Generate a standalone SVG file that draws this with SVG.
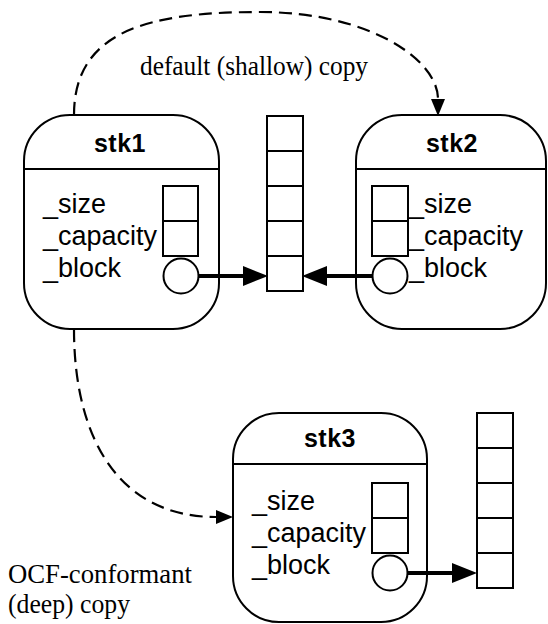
<svg xmlns="http://www.w3.org/2000/svg" width="548" height="624" viewBox="0 0 548 624">
  <style>
    .frame { fill: #fff; stroke: #000; stroke-width: 2; }
    .cell { fill: #fff; stroke: #000; stroke-width: 2; }
    .rule { stroke: #000; stroke-width: 2; }
    .title { font-family: "Liberation Sans", Arial, sans-serif; font-size: 25px; font-weight: bold; text-anchor: middle; letter-spacing: 0.5px; }
    .field { font-family: "Liberation Sans", Arial, sans-serif; font-size: 27px; }
    .note { font-family: "Liberation Serif", "Times New Roman", serif; font-size: 28px; }
    .ptr { fill: none; stroke: #000; stroke-width: 4; }
    .copy { fill: none; stroke: #000; stroke-width: 2.2; stroke-dasharray: 13 7; }
  </style>
  <defs>
    <marker id="bigHead" markerUnits="userSpaceOnUse" markerWidth="25" markerHeight="20" refX="0" refY="10" orient="auto">
      <path d="M0,0 L25,10 L0,20 z" fill="#000"/>
    </marker>
    <marker id="smallHead" markerUnits="userSpaceOnUse" markerWidth="17" markerHeight="14" refX="0" refY="7" orient="auto">
      <path d="M0,0 L17,7 L0,14 z" fill="#000"/>
    </marker>
  </defs>

  <rect width="548" height="624" fill="#fff"/>

  <!-- shared block referenced by stk1 and stk2 -->
  <g id="block-shared">
    <rect class="cell" x="267" y="116" width="36" height="35"/>
    <rect class="cell" x="267" y="151" width="36" height="35"/>
    <rect class="cell" x="267" y="186" width="36" height="35"/>
    <rect class="cell" x="267" y="221" width="36" height="35"/>
    <rect class="cell" x="267" y="256" width="36" height="35"/>
  </g>

  <!-- block owned by stk3 -->
  <g id="block-stk3">
    <rect class="cell" x="477" y="413" width="36" height="35"/>
    <rect class="cell" x="477" y="448" width="36" height="35"/>
    <rect class="cell" x="477" y="483" width="36" height="35"/>
    <rect class="cell" x="477" y="518" width="36" height="35"/>
    <rect class="cell" x="477" y="553" width="36" height="35"/>
  </g>

  <g id="stk1">
    <rect class="frame" x="24" y="115" width="195" height="214" rx="46" ry="46"/>
    <line class="rule" x1="24" y1="169" x2="219" y2="169"/>
    <text class="title" x="120" y="152">stk1</text>
    <text class="field" x="43" y="213">_size</text>
    <text class="field" x="43" y="245">_capacity</text>
    <text class="field" x="43" y="277">_block</text>
    <rect class="cell" x="163" y="186" width="35" height="35"/>
    <rect class="cell" x="163" y="221" width="35" height="35"/>
    <circle class="cell" cx="181" cy="276" r="17.5"/>
  </g>

  <g id="stk2">
    <rect class="frame" x="356" y="115" width="190" height="214" rx="46" ry="46"/>
    <line class="rule" x1="356" y1="169" x2="546" y2="169"/>
    <text class="title" x="452" y="152">stk2</text>
    <text class="field" x="409" y="213">_size</text>
    <text class="field" x="409" y="245">_capacity</text>
    <text class="field" x="409" y="277">_block</text>
    <rect class="cell" x="372" y="186" width="36" height="35"/>
    <rect class="cell" x="372" y="221" width="36" height="35"/>
    <circle class="cell" cx="390" cy="276" r="17.5"/>
  </g>

  <g id="stk3">
    <rect class="frame" x="233" y="413" width="194" height="209" rx="46" ry="46"/>
    <line class="rule" x1="233" y1="464" x2="427" y2="464"/>
    <text class="title" x="330" y="447">stk3</text>
    <text class="field" x="252" y="510">_size</text>
    <text class="field" x="252" y="542">_capacity</text>
    <text class="field" x="252" y="574">_block</text>
    <rect class="cell" x="372" y="483" width="36" height="35"/>
    <rect class="cell" x="372" y="518" width="36" height="35"/>
    <circle class="cell" cx="390" cy="573" r="17.5"/>
  </g>

  <g id="connectors">
    <!-- pointer arrows from _block to the arrays -->
    <line class="ptr" x1="198" y1="276" x2="243" y2="276" marker-end="url(#bigHead)"/>
    <line class="ptr" x1="372" y1="276" x2="327" y2="276" marker-end="url(#bigHead)"/>
    <line class="ptr" x1="408" y1="573" x2="452" y2="573" marker-end="url(#bigHead)"/>
    <!-- copy relations -->
    <path class="copy" d="M74,115 C74,30 150,12 260,12 C370,12 438,60 438,99" marker-end="url(#smallHead)"/>
    <path class="copy" d="M74,329 C74,440 120,517 216,517" marker-end="url(#smallHead)"/>
  </g>

  <g id="labels">
    <text class="note" x="140" y="75" textLength="228" lengthAdjust="spacingAndGlyphs">default (shallow) copy</text>
    <text class="note" x="8" y="583" textLength="184" lengthAdjust="spacingAndGlyphs">OCF-conformant</text>
    <text class="note" x="8" y="613" textLength="122" lengthAdjust="spacingAndGlyphs">(deep) copy</text>
  </g>
</svg>
